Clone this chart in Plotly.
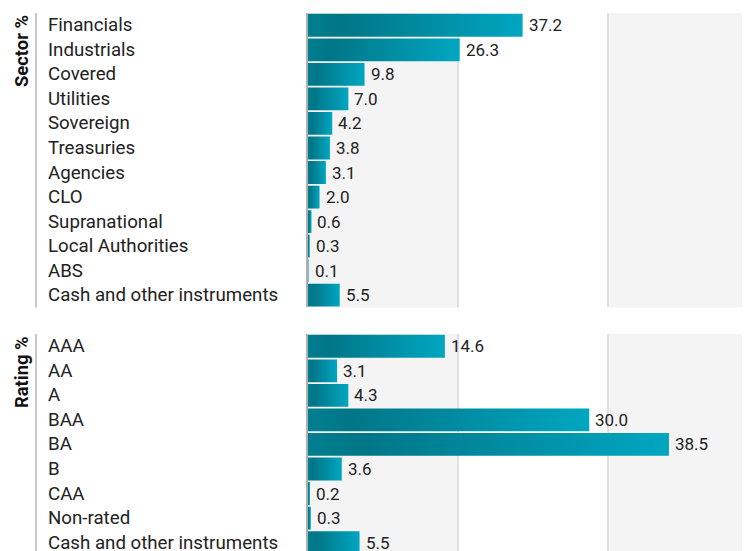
import plotly.graph_objects as go

# ---------------- data ----------------
sector_title = "Sector %"
sector_labels = ["Financials", "Industrials", "Covered", "Utilities", "Sovereign",
                 "Treasuries", "Agencies", "CLO", "Supranational", "Local Authorities",
                 "ABS", "Cash and other instruments"]
sector_values = [37.2, 26.3, 9.8, 7.0, 4.2, 3.8, 3.1, 2.0, 0.6, 0.3, 0.1, 5.5]
sector_axis_max = 78
sector_grid = [0, 26, 52, 78]

rating_title = "Rating %"
rating_labels = ["AAA", "AA", "A", "BAA", "BA", "B", "CAA", "Non-rated",
                 "Cash and other instruments"]
rating_values = [14.6, 3.1, 4.3, 30.0, 38.5, 3.6, 0.2, 0.3, 5.5]
rating_axis_max = 48
rating_grid = [0, 16, 32, 48]

# ---------------- style ----------------
W, H = 750, 551
FONT = "Roboto"
GRAD = [[0.0, "#007f90"], [0.15, "#007687"], [1.0, "#00a6c1"]]
HALF = 0.465         # half bar thickness in category units
AX_X0 = 300 / W      # plot area left edge (paper)
PITCH = 24.54        # px per row

top_y0, top_y1 = 5, 5 + PITCH * len(sector_labels)
bot_y0 = 326
bot_y1 = bot_y0 + PITCH * len(rating_labels)

panels = [
    dict(title=sector_title, labels=sector_labels, values=sector_values,
         xa="x", ya="y", dom=[1 - top_y1 / H, 1 - top_y0 / H],
         xmax=sector_axis_max, grid=sector_grid),
    dict(title=rating_title, labels=rating_labels, values=rating_values,
         xa="x2", ya="y2", dom=[1 - bot_y1 / H, 1 - bot_y0 / H],
         xmax=rating_axis_max, grid=rating_grid),
]

fig = go.Figure()
annotations = []
shapes = []

for p in panels:
    xa, ya = p["xa"], p["ya"]
    yd = f"{ya} domain"
    g = p["grid"]
    # alternating background bands
    for k in range(0, len(g) - 1, 2):
        shapes.append(dict(type="rect", xref=xa, yref=yd, x0=g[k], x1=g[k + 1],
                           y0=0, y1=1, fillcolor="#f4f4f4", line=dict(width=0),
                           layer="below"))
    shapes.append(dict(type="line", xref="paper", yref=yd, x0=28 / W, x1=28 / W,
                       y0=0, y1=1, line=dict(color="#c8c8c8", width=2)))
    for i, v in enumerate(p["values"]):
        fig.add_trace(go.Scatter(
            x=[0, v, v, 0, 0],
            y=[i - HALF, i - HALF, i + HALF, i + HALF, i - HALF],
            mode="lines", fill="toself",
            fillgradient=dict(type="horizontal", colorscale=GRAD),
            line=dict(width=0), xaxis=xa, yaxis=ya,
            hoverinfo="skip", showlegend=False,
        ))
        annotations.append(dict(
            x=v, y=i, xref=xa, yref=ya, text=f"{v:.1f}", showarrow=False,
            xanchor="left", yanchor="middle", xshift=4,
            font=dict(family=FONT, size=17, color="#222222"),
        ))
        annotations.append(dict(
            x=38 / W, y=i, xref="paper", yref=ya, text=p["labels"][i],
            showarrow=False, xanchor="left", yanchor="middle",
            font=dict(family=FONT, size=18.7, color="#222222"),
        ))
    annotations.append(dict(
        x=13 / W, y=1, xref="paper", yref=yd, text=f"<b>{p['title']}</b>",
        showarrow=False, textangle=-90, xanchor="center", yanchor="top",
        font=dict(family=FONT, size=18.4, color="#111111"),
    ))

axis_common_x = dict(showgrid=True, gridcolor="#e0e0e0", gridwidth=2,
                     zeroline=False, showticklabels=False, ticks="",
                     showline=False, domain=[AX_X0, 1], fixedrange=True)
axis_common_y = dict(showgrid=False, zeroline=False, showticklabels=False,
                     ticks="", showline=True, linecolor="#b0b0b0", linewidth=2,
                     fixedrange=True)

fig.update_layout(
    width=W, height=H,
    margin=dict(l=0, r=0, t=0, b=0),
    paper_bgcolor="white", plot_bgcolor="rgba(0,0,0,0)",
    xaxis=dict(**axis_common_x, range=[0, panels[0]["xmax"]],
               tickvals=panels[0]["grid"], anchor="y"),
    yaxis=dict(**axis_common_y, range=[len(sector_labels) - 0.5, -0.5],
               domain=panels[0]["dom"], anchor="x"),
    xaxis2=dict(**axis_common_x, range=[0, panels[1]["xmax"]],
                tickvals=panels[1]["grid"], anchor="y2"),
    yaxis2=dict(**axis_common_y, range=[len(rating_labels) - 0.5, -0.5],
                domain=panels[1]["dom"], anchor="x2"),
    annotations=annotations,
    shapes=shapes,
    showlegend=False,
)

fig.write_html("out.html")
